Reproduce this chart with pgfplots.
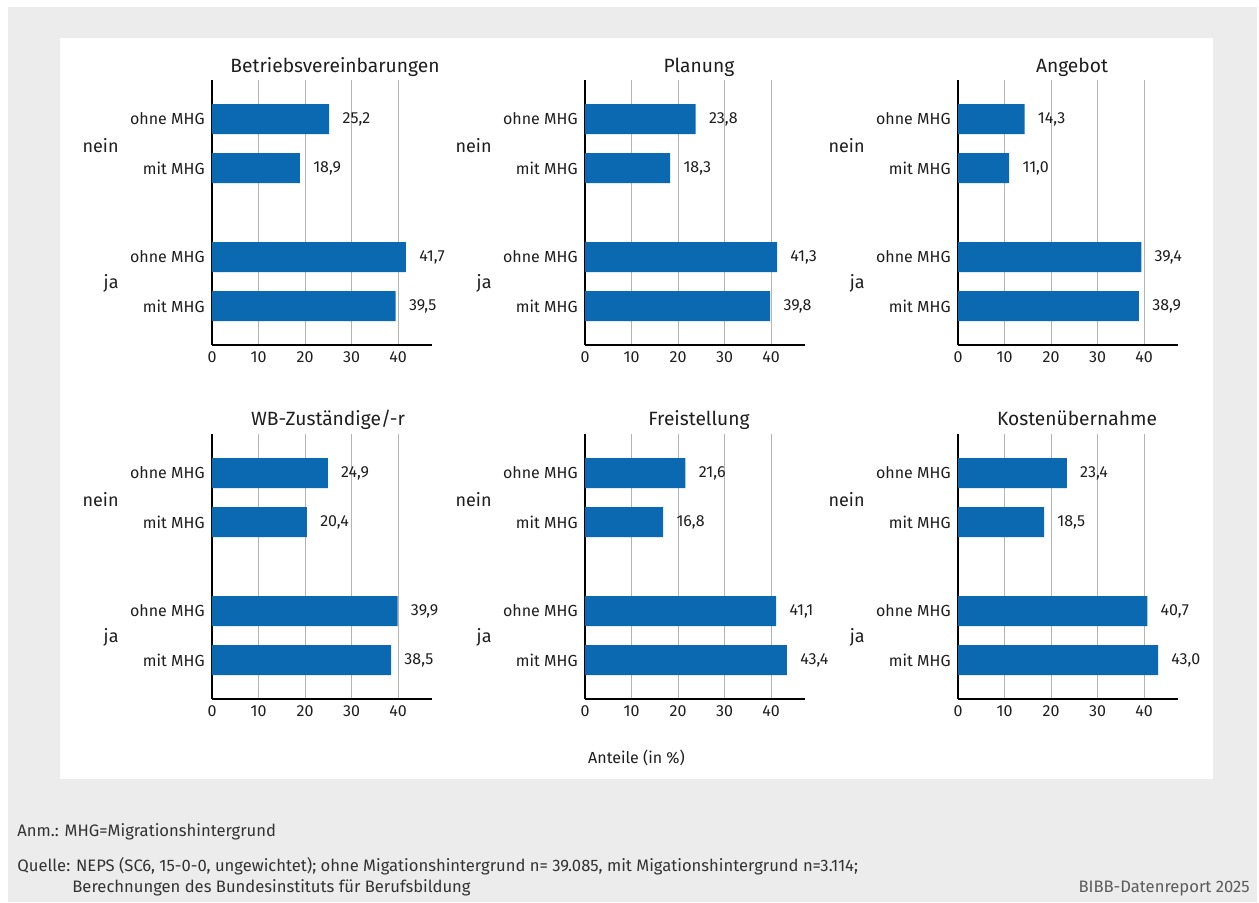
\documentclass[border=0pt]{standalone}
\usepackage{fontspec}
\setmainfont{Fira Sans}
\usepackage{pgfplots}
\usepackage{pgfplotstable}
\pgfplotsset{compat=1.18}
\definecolor{barblue}{HTML}{0A69B1}
\definecolor{bggray}{HTML}{ECECEC}
\definecolor{gridgray}{HTML}{B4B4B4}
\definecolor{txt}{HTML}{1E1E1E}
\definecolor{foot}{HTML}{333333}
\newcommand\fsmall{\fontsize{8pt}{9.6pt}\selectfont}
\newcommand\ffoot{\fontsize{8.3pt}{10pt}\selectfont}
\newcommand\fgroup{\fontsize{9pt}{10.8pt}\selectfont}
\newcommand\ftitle{\fontsize{9.6pt}{11.5pt}\selectfont}

% x = share, y = bar position, label = printed value
\pgfplotstableread{
x y label
25.2 226 25,2
18.9 177 18,9
41.7 88 41,7
39.5 39 39,5
}\tBetrieb
\pgfplotstableread{
x y label
23.8 226 23,8
18.3 177 18,3
41.3 88 41,3
39.8 39 39,8
}\tPlanung
\pgfplotstableread{
x y label
14.3 226 14,3
11.0 177 11,0
39.4 88 39,4
38.9 39 38,9
}\tAngebot
\pgfplotstableread{
x y label
24.9 226 24,9
20.4 177 20,4
39.9 88 39,9
38.5 39 38,5
}\tWB
\pgfplotstableread{
x y label
21.6 226 21,6
16.8 177 16,8
41.1 88 41,1
43.4 39 43,4
}\tFrei
\pgfplotstableread{
x y label
23.4 226 23,4
18.5 177 18,5
40.7 88 40,7
43.0 39 43,0
}\tKosten

\pgfplotsset{
  panel/.style={
    xbar, scale only axis, width=110pt, height=132.5pt,
    xmin=0, xmax=47.3, ymin=0, ymax=265,
    enlargelimits=false, clip=false,
    axis x line*=bottom, axis y line*=left,
    axis line style={line width=1.2pt, black},
    xtick={0,10,20,30,40},
    xmajorgrids, grid style={gridgray, line width=0.5pt},
    ytick={39,88,177,226},
    yticklabels={mit MHG\hspace{3pt}, ohne MHG, mit MHG\hspace{3pt}, ohne MHG},
    major tick length=0pt,
    /pgf/number format/assume math mode=true,
    xticklabel style={font=\fsmall, text=txt, inner sep=1pt, yshift=-2pt},
    yticklabel style={font=\fsmall, text=txt, inner sep=0pt, xshift=-3.5pt},
    bar width=15pt, bar shift=0pt,
    point meta=explicit symbolic,
    nodes near coords,
    nodes near coords style={anchor=west, inner sep=0pt, xshift=6.5pt, font=\fsmall, text=txt},
  },
  panelbars/.style={fill=barblue, draw=none},
}
\newcommand\grouplabels{%
  \node[anchor=east, font=\fgroup, text=txt, inner sep=0pt] at (axis cs:-20,199.5) {nein};
  \node[anchor=east, font=\fgroup, text=txt, inner sep=0pt] at (axis cs:-20,61.5) {ja};
}

\begin{document}
\begin{tikzpicture}
\begin{scope}[x=0.5pt, y=-0.5pt]
  \fill[white] (0,0) rectangle (1259,902);
  \fill[bggray] (8,7) rectangle (1257,902);
  \fill[white] (60,38) rectangle (1213,779);
  % titles
  \node[anchor=base, font=\ftitle, text=txt] at (335,72) {Betriebsvereinbarungen};
  \node[anchor=base, font=\ftitle, text=txt] at (699,72) {Planung};
  \node[anchor=base, font=\ftitle, text=txt] at (1072,72) {Angebot};
  \node[anchor=base, font=\ftitle, text=txt] at (328,425) {WB-Zuständige/-r};
  \node[anchor=base, font=\ftitle, text=txt] at (699,425) {Freistellung};
  \node[anchor=base, font=\ftitle, text=txt] at (1077,425) {Kostenübernahme};
  % common x label
  \node[anchor=base, font=\fsmall, text=txt] at (636.5,763) {Anteile (in \%)};
  % footer
  \node[anchor=base west, font=\ffoot, text=foot, inner sep=0pt] at (17,836) {Anm.: MHG=Migrationshintergrund};
  \node[anchor=base west, font=\ffoot, text=foot, inner sep=0pt] at (17,871) {Quelle: NEPS (SC6, 15-0-0, ungewichtet); ohne Migationshintergrund n= 39.085, mit Migationshintergrund n=3.114;};
  \node[anchor=base west, font=\ffoot, text=foot, inner sep=0pt] at (72,892) {Berechnungen des Bundesinstituts für Berufsbildung};
  \node[anchor=base east, font=\ffoot, text=foot!80!white, inner sep=0pt] at (1250,892) {BIBB-Datenreport 2025};
\end{scope}

\begin{axis}[panel, at={(106pt,-172.5pt)}, anchor=south west]
  \addplot[panelbars] table[x=x, y=y, meta=label] {\tBetrieb};
  \grouplabels
\end{axis}
\begin{axis}[panel, at={(292.5pt,-172.5pt)}, anchor=south west]
  \addplot[panelbars] table[x=x, y=y, meta=label] {\tPlanung};
  \grouplabels
\end{axis}
\begin{axis}[panel, at={(479pt,-172.5pt)}, anchor=south west]
  \addplot[panelbars] table[x=x, y=y, meta=label] {\tAngebot};
  \grouplabels
\end{axis}
\begin{axis}[panel, at={(106pt,-349.5pt)}, anchor=south west]
  \addplot[panelbars] table[x=x, y=y, meta=label] {\tWB};
  \grouplabels
\end{axis}
\begin{axis}[panel, at={(292.5pt,-349.5pt)}, anchor=south west]
  \addplot[panelbars] table[x=x, y=y, meta=label] {\tFrei};
  \grouplabels
\end{axis}
\begin{axis}[panel, at={(479pt,-349.5pt)}, anchor=south west]
  \addplot[panelbars] table[x=x, y=y, meta=label] {\tKosten};
  \grouplabels
\end{axis}
\end{tikzpicture}
\end{document}
